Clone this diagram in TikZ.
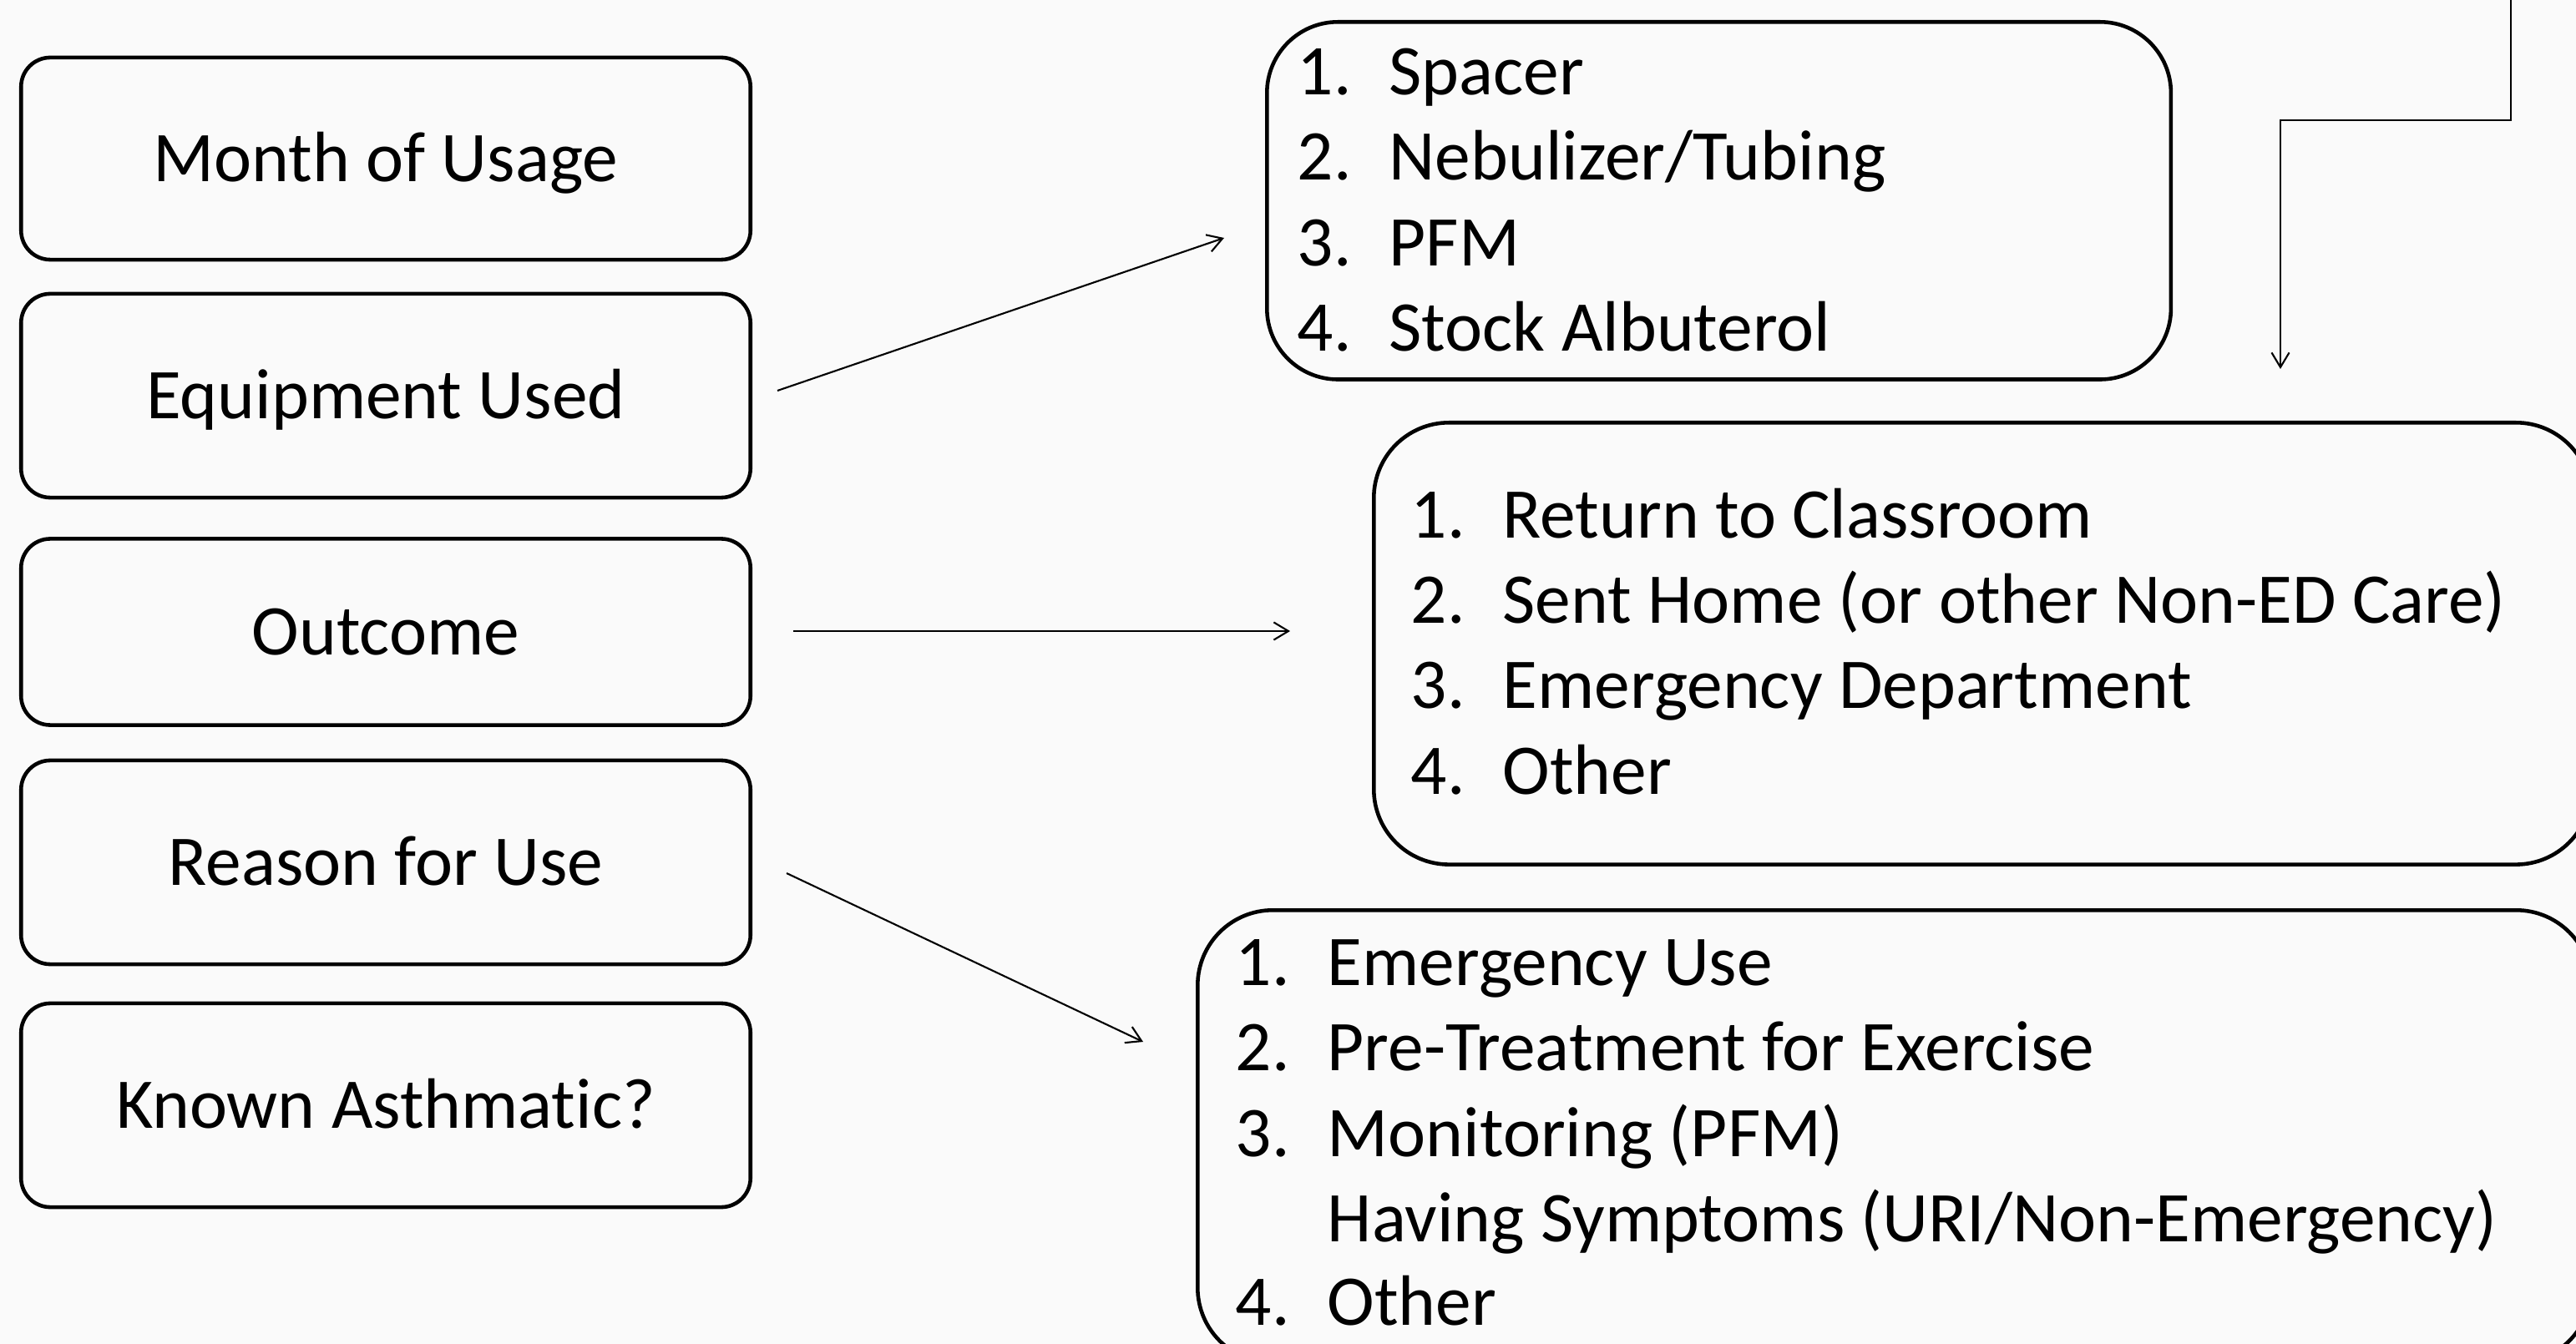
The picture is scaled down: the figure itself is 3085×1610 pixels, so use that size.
\documentclass[tikz,border=0pt]{standalone}
\usepackage{fontspec}
\setmainfont{Carlito}[Ligatures={NoCommon}]
\usetikzlibrary{arrows.meta}
\definecolor{bgc}{HTML}{FAFAFA}
\newcommand\itemfont{\fontsize{24.3pt}{29pt}\selectfont}
\newcommand\numitem[2]{\makebox[1.1cm][l]{#1}#2}
\begin{document}
\begin{tikzpicture}[x=0.01cm,y=-0.01cm,
  lbox/.style={draw, line width=1.3pt, rounded corners=0.35cm, minimum width=8.73cm,
    inner sep=0pt, text height=15.6pt, text depth=0pt, font=\itemfont},
  rbox/.style={draw, line width=1.3pt, rounded corners=0.9cm, inner sep=0pt, anchor=north west},
  item/.style={anchor=base west, inner sep=0pt, font=\itemfont},
  arr/.style={line width=0.6pt, -{Straight Barb[length=5pt,width=6pt]}}]
\fill[bgc] (0,0) rectangle (3085,1610);
\useasboundingbox (0,0) rectangle (3085,1610);
\clip (0,0) rectangle (3085,1610);

% left boxes
\node[lbox, minimum height=2.42cm] (month) at (462,190) {Month of Usage};
\node[lbox, minimum height=2.44cm] (equip) at (462,474) {Equipment Used};
\node[lbox, minimum height=2.23cm] (outc) at (462,757) {Outcome};
\node[lbox, minimum height=2.44cm] (reason) at (462,1033) {Reason for Use};
\node[lbox, minimum height=2.44cm] (known) at (462,1324) {Known Asthmatic?};

% right boxes
\node[rbox, rounded corners=0.85cm, minimum width=10.82cm, minimum height=4.28cm] (equiplist) at (1515,24) {};
\node[rbox, minimum width=14.57cm, minimum height=5.29cm] (outlist) at (1643,504) {};
\node[rbox, minimum width=16.68cm, minimum height=5.42cm] (reaslist) at (1432,1088) {};

% equipment list
\node[item] (a1) at (1553,114) {\numitem{1.}{Spacer}};
\node[item] (a2) at (1553,216) {\numitem{2.}{Nebulizer/Tubing}};
\node[item] (a3) at (1553,319) {\numitem{3.}{PFM}};
\node[item] (a4) at (1553,421) {\numitem{4.}{Stock Albuterol}};

% outcome list
\node[item] (b1) at (1689,645) {\numitem{1.}{Return to Classroom}};
\node[item] (b2) at (1689,747) {\numitem{2.}{Sent Home (or other Non-ED Care)}};
\node[item] (b3) at (1689,849) {\numitem{3.}{Emergency Department}};
\node[item] (b4) at (1689,952) {\numitem{4.}{Other}};

% reason list
\node[item] (c1) at (1479,1180) {\numitem{1.}{Emergency Use}};
\node[item] (c2) at (1479,1282) {\numitem{2.}{Pre-Treatment for Exercise}};
\node[item] (c3) at (1479,1385) {\numitem{3.}{Monitoring (PFM)}};
\node[item] (c3b) at (1479,1487) {\numitem{}{Having Symptoms (URI/Non-Emergency)}};
\node[item] (c4) at (1479,1587) {\numitem{4.}{Other}};

% connectors
\coordinate (e1) at (931,468);  \coordinate (e2) at (1466,285);
\coordinate (o1) at (950,756);  \coordinate (o2) at (1545,756);
\coordinate (r1) at (942,1046); \coordinate (r2) at (1369,1248);
\coordinate (t0) at (3007,-5);  \coordinate (tb) at (3007,144);
\coordinate (t1) at (2731,442);
\draw[arr] (e1) -- (e2);
\draw[arr] (o1) -- (o2);
\draw[arr] (r1) -- (r2);
\draw[arr] (t0) -- (tb) -| (t1);
\end{tikzpicture}
\end{document}
